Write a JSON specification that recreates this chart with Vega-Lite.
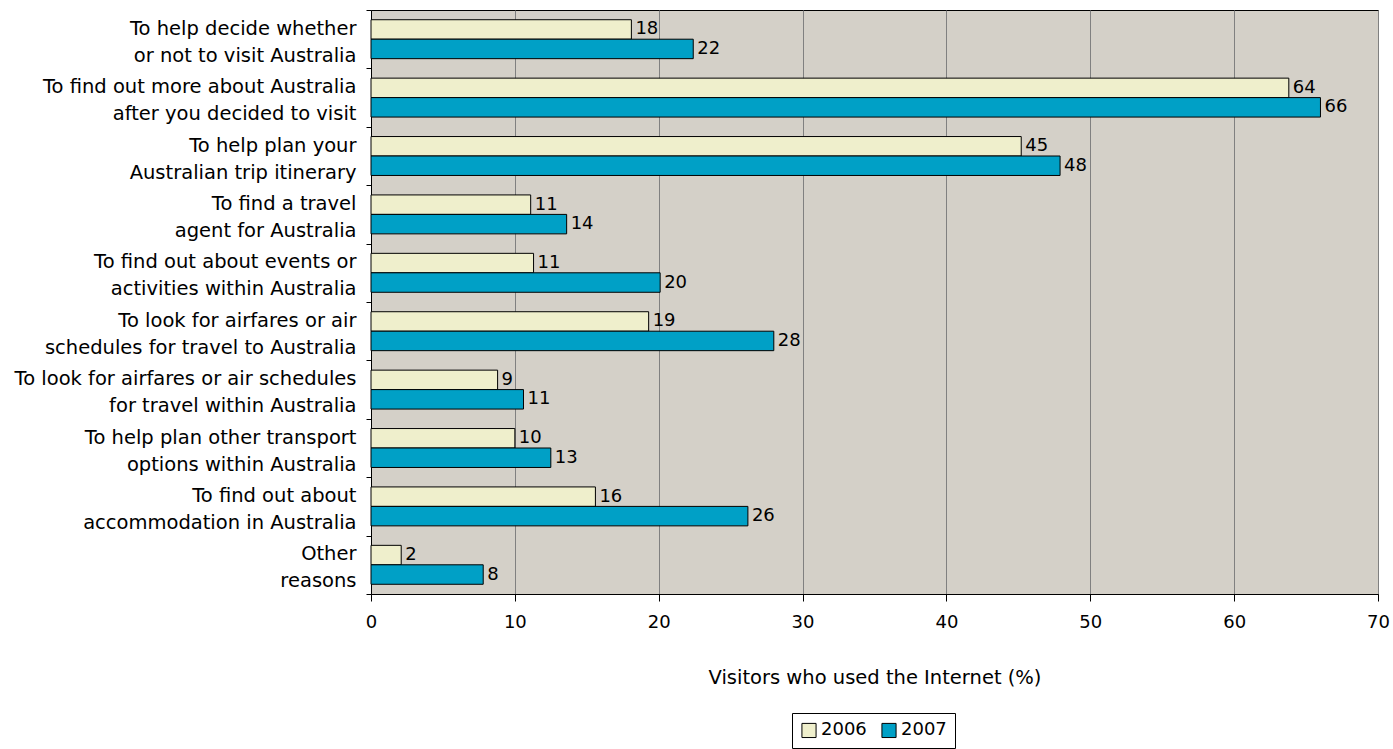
{
  "$schema": "https://vega.github.io/schema/vega-lite/v6.json",
  "autosize": {"type": "none"},
  "padding": {"left": 371, "top": 10, "right": 15, "bottom": 155},
  "width": 1007,
  "height": 584,
  "background": "white",
  "config": {
    "font": "DejaVu Sans",
    "view": {"fill": "#D4D0C8", "stroke": "#000000", "strokeWidth": 1}
  },
  "data": {
    "values": [
      {"category": "To help decide whether|or not to visit Australia", "year": "2006", "value": 18.1, "label": "18"},
      {"category": "To help decide whether|or not to visit Australia", "year": "2007", "value": 22.4, "label": "22"},
      {"category": "To find out more about Australia|after you decided to visit", "year": "2006", "value": 63.8, "label": "64"},
      {"category": "To find out more about Australia|after you decided to visit", "year": "2007", "value": 66.0, "label": "66"},
      {"category": "To help plan your|Australian trip itinerary", "year": "2006", "value": 45.2, "label": "45"},
      {"category": "To help plan your|Australian trip itinerary", "year": "2007", "value": 47.9, "label": "48"},
      {"category": "To find a travel|agent for Australia", "year": "2006", "value": 11.1, "label": "11"},
      {"category": "To find a travel|agent for Australia", "year": "2007", "value": 13.6, "label": "14"},
      {"category": "To find out about events or|activities within Australia", "year": "2006", "value": 11.3, "label": "11"},
      {"category": "To find out about events or|activities within Australia", "year": "2007", "value": 20.1, "label": "20"},
      {"category": "To look for airfares or air|schedules for travel to Australia", "year": "2006", "value": 19.3, "label": "19"},
      {"category": "To look for airfares or air|schedules for travel to Australia", "year": "2007", "value": 28.0, "label": "28"},
      {"category": "To look for airfares or air schedules|for travel within Australia", "year": "2006", "value": 8.8, "label": "9"},
      {"category": "To look for airfares or air schedules|for travel within Australia", "year": "2007", "value": 10.6, "label": "11"},
      {"category": "To help plan other transport|options within Australia", "year": "2006", "value": 10.0, "label": "10"},
      {"category": "To help plan other transport|options within Australia", "year": "2007", "value": 12.5, "label": "13"},
      {"category": "To find out about|accommodation in Australia", "year": "2006", "value": 15.6, "label": "16"},
      {"category": "To find out about|accommodation in Australia", "year": "2007", "value": 26.2, "label": "26"},
      {"category": "Other|reasons", "year": "2006", "value": 2.1, "label": "2"},
      {"category": "Other|reasons", "year": "2007", "value": 7.8, "label": "8"}
    ]
  },
  "encoding": {
    "y": {
      "field": "category",
      "type": "nominal",
      "sort": null,
      "scale": {"paddingInner": 0, "paddingOuter": 0},
      "axis": {
        "title": null,
        "labelExpr": "split(datum.label, '|')",
        "labelFontSize": 19.5,
        "labelColor": "#000000",
        "labelLineHeight": 27,
        "labelOffset": -11,
        "labelPadding": 10,
        "labelLimit": 400,
        "tickBand": "extent",
        "tickSize": 5,
        "tickColor": "#000000",
        "domainColor": "#000000",
        "grid": false
      }
    },
    "yOffset": {
      "field": "year",
      "type": "nominal",
      "scale": {"paddingInner": 0, "paddingOuter": 0.5}
    },
    "x": {
      "field": "value",
      "type": "quantitative",
      "scale": {"domain": [0, 70], "nice": false},
      "axis": {
        "title": "Visitors who used the Internet (%)",
        "titleFontSize": 19.5,
        "titleFontWeight": "normal",
        "titleColor": "#000000",
        "titlePadding": 37,
        "values": [0, 10, 20, 30, 40, 50, 60, 70],
        "labelFontSize": 18,
        "labelColor": "#000000",
        "labelPadding": 12,
        "labelFlush": false,
        "tickSize": 7,
        "tickColor": "#000000",
        "domainColor": "#000000",
        "grid": true,
        "gridColor": "#808080",
        "gridWidth": 1
      }
    }
  },
  "layer": [
    {
      "mark": {"type": "bar", "stroke": "#000000", "strokeWidth": 1},
      "encoding": {
        "color": {
          "field": "year",
          "type": "nominal",
          "scale": {"domain": ["2006", "2007"], "range": ["#EFEFCC", "#00A0C6"]},
          "legend": {
            "title": null,
            "orient": "none",
            "direction": "horizontal",
            "legendX": 421,
            "legendY": 703,
            "labelFontSize": 18,
            "labelColor": "#000000",
            "symbolType": "square",
            "symbolSize": 200,
            "symbolStrokeColor": "#000000",
            "symbolStrokeWidth": 1,
            "strokeColor": "#000000",
            "fillColor": "#FFFFFF",
            "padding": 8,
            "columnPadding": 12,
            "labelOffset": 3
          }
        }
      }
    },
    {
      "mark": {"type": "text", "align": "left", "baseline": "middle", "dx": 4, "fontSize": 18, "color": "#000000"},
      "encoding": {
        "text": {"field": "label"}
      }
    }
  ]
}
